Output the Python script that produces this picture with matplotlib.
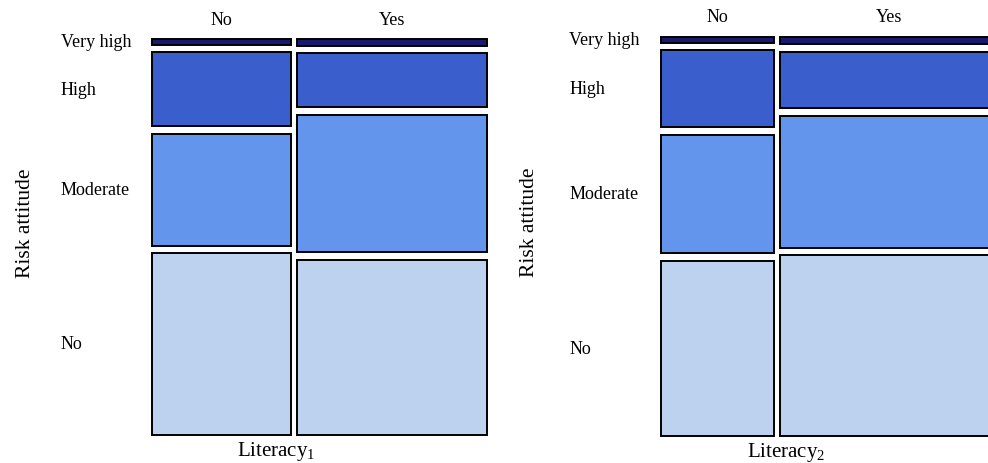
import matplotlib
matplotlib.use("Agg")
import matplotlib.pyplot as plt
from matplotlib.patches import Rectangle

plt.rcParams["font.family"] = ["Liberation Serif", "DejaVu Serif"]
plt.rcParams["mathtext.fontset"] = "custom"
plt.rcParams["mathtext.rm"] = "Liberation Serif"
plt.rcParams["mathtext.it"] = "Liberation Serif:italic"

# Categories
risk_levels = ["Very high", "High", "Moderate", "No"]
literacy_levels = ["No", "Yes"]

# Column shares (%) of respondents by literacy answer
lit1_share = [42.5, 57.5]
lit2_share = [34.2, 65.8]

# Risk attitude distribution (%) within each literacy column, top to bottom
lit1_no = [1.6, 19.8, 30.0, 48.6]
lit1_yes = [1.8, 14.5, 36.9, 46.8]
lit2_no = [1.6, 20.4, 31.4, 46.6]
lit2_yes = [2.0, 15.0, 35.0, 48.0]

risk_colors = ["#191970", "#3A5FCD", "#6495ED", "#BCD2EE"]

GAP_X = 0.018
GAP_Y = 0.0187


def mosaic(ax, shares, columns, xlabel, label_y, ylabel_x):
    ax.set_xlim(0, 1)
    ax.set_ylim(0, 1)
    ax.axis("off")
    n_cols = len(shares)
    avail_x = 1 - GAP_X * (n_cols - 1)
    total_share = sum(shares)
    x = 0.0
    first_centers = []
    for ci, (share, col) in enumerate(zip(shares, columns)):
        w = avail_x * share / total_share
        avail_y = 1 - GAP_Y * (len(col) - 1)
        tot = sum(col)
        top = 1.0
        for ri, v in enumerate(col):
            h = avail_y * v / tot
            ax.add_patch(Rectangle((x, top - h), w, h, facecolor=risk_colors[ri],
                                   edgecolor="black", linewidth=1.4, clip_on=False))
            if ci == 0:
                first_centers.append(top - h / 2)
            top -= h + GAP_Y
        ax.text(x + w / 2, 1.05, literacy_levels[ci], ha="center", va="center",
                fontsize=13)
        x += w + GAP_X
    for name, yc in zip(risk_levels, first_centers):
        ax.text(-0.271, yc, name, ha="left", va="center", fontsize=13)
    ax.text(ylabel_x, 0.537, "Risk attitude", rotation=90, ha="center", va="center",
            fontsize=15.5)
    ax.text(0.372, label_y, xlabel, ha="center", va="baseline", fontsize=15)


fig = plt.figure(figsize=(9.88, 4.64), dpi=100)
ax1 = fig.add_axes([0.1535, 0.0614, 0.339, 0.8524])
ax2 = fig.add_axes([0.6687, 0.0575, 0.3414, 0.8612])

mosaic(ax1, lit1_share, [lit1_no, lit1_yes], r"Literacy$_{\mathrm{1}}$", -0.052, -0.377)
mosaic(ax2, lit2_share, [lit2_no, lit2_yes], r"Literacy$_{\mathrm{2}}$", -0.049, -0.39)

fig.savefig("out.png", dpi=100)
